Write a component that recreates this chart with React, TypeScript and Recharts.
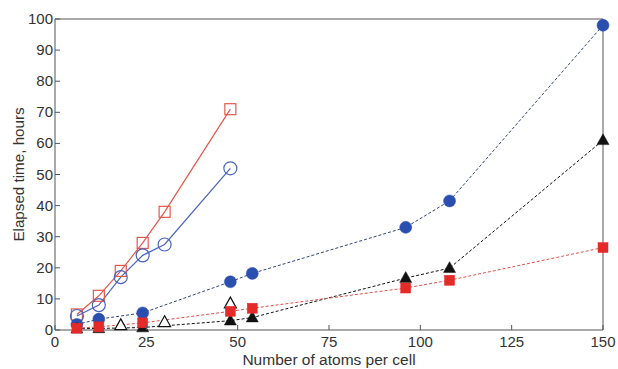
import React from 'react';
import { ComposedChart, Line, XAxis, YAxis, Label } from 'recharts';

const xTicks = [0, 25, 50, 75, 100, 125, 150];
const yTicks = [0, 10, 20, 30, 40, 50, 60, 70, 80, 90, 100];

const openSquareX = [6, 12, 18, 24, 30, 48];
const openSquareY = [5, 11, 19, 28, 38, 71];
const openCircleX = [6, 12, 18, 24, 30, 48];
const openCircleY = [4.5, 8, 17, 24, 27.5, 52];
const filledX = [6, 12, 24, 48, 54, 96, 108, 150];
const filledCircleY = [1.8, 3.5, 5.5, 15.5, 18.2, 33, 41.5, 98];
const filledTriangleY = [0.4, 0.5, 0.8, 3, 4, 16.7, 19.9, 61];
const filledSquareY = [0.6, 1.0, 2.3, 6, 7, 13.5, 16, 26.5];
const openTriangleX = [18, 30, 48];
const openTriangleY = [1.5, 2.5, 8.5];

const pts = (xs: number[], ys: number[]) => xs.map((x, i) => ({ x, y: ys[i] }));

const FONT = '"Liberation Sans", Arial, Helvetica, sans-serif';
const TEXT = '#333';
const AXIS = '#555';

type Shape = 'circle' | 'square' | 'triangle';

const makeDot = (shape: Shape, size: number, fill: string, stroke: string, sw: number) => (props: any) => {
  const { cx, cy, index } = props;
  if (cx == null || cy == null) return <g key={`d-${index}`} />;
  const k = `d-${index}`;
  if (shape === 'circle') {
    return <circle key={k} cx={cx} cy={cy} r={size / 2} fill={fill} stroke={stroke} strokeWidth={sw} />;
  }
  if (shape === 'square') {
    return <rect key={k} x={cx - size / 2} y={cy - size / 2} width={size} height={size} fill={fill} stroke={stroke} strokeWidth={sw} />;
  }
  const h = size * 0.9;
  const p = `${cx},${cy - h * 0.6} ${cx - size / 2},${cy + h * 0.4} ${cx + size / 2},${cy + h * 0.4}`;
  return <polygon key={k} points={p} fill={fill} stroke={stroke} strokeWidth={sw} />;
};

const BottomTick = (props: any) => {
  const { x, y, payload } = props;
  return (
    <g>
      <line x1={x} y1={y} x2={x} y2={y - 5} stroke={AXIS} />
      <text x={x} y={y + 17} textAnchor="middle" fontSize={15} fill={TEXT} fontFamily={FONT}>{payload.value}</text>
    </g>
  );
};
const TopTick = (props: any) => {
  const { x, y } = props;
  return <line x1={x} y1={y} x2={x} y2={y + 5} stroke={AXIS} />;
};
const LeftTick = (props: any) => {
  const { x, y, payload } = props;
  return (
    <g>
      <line x1={x} y1={y} x2={x + 5} y2={y} stroke={AXIS} />
      <text x={x - 2} y={y + 5} textAnchor="end" fontSize={15} fill={TEXT} fontFamily={FONT}>{payload.value}</text>
    </g>
  );
};
const RightTick = (props: any) => {
  const { x, y } = props;
  return <line x1={x} y1={y} x2={x - 5} y2={y} stroke={AXIS} />;
};

export default function App() {
  return (
    <div style={{ position: 'absolute', left: 0, top: 0, background: '#fff' }}>
      <ComposedChart width={618} height={369} margin={{ top: 18, right: 14, bottom: 0, left: 0 }}>
        <XAxis dataKey="x" type="number" domain={[0, 150]} ticks={xTicks} height={39}
          axisLine={{ stroke: AXIS }} tickLine={false} tickSize={0} tickMargin={0} tick={<BottomTick />} interval={0}>
          <Label content={(p: any) => {
            const vb = p.viewBox;
            return <text x={vb.x + vb.width / 2} y={365} textAnchor="middle" fontSize={15.5} fill={TEXT} fontFamily={FONT}>Number of atoms per cell</text>;
          }} />
        </XAxis>
        <XAxis xAxisId="top" orientation="top" dataKey="x" type="number" domain={[0, 150]} ticks={xTicks} height={1}
          axisLine={{ stroke: AXIS }} tickLine={false} tickSize={0} tickMargin={0} tick={<TopTick />} interval={0} />
        <YAxis type="number" domain={[0, 100]} ticks={yTicks} width={55}
          axisLine={{ stroke: AXIS }} tickLine={false} tickSize={0} tickMargin={0} tick={<LeftTick />} interval={0}>
          <Label content={(p: any) => {
            const vb = p.viewBox;
            const cy = vb.y + vb.height / 2;
            return <text x={18} y={cy} transform={`rotate(-90 18 ${cy})`} textAnchor="middle" dominantBaseline="central" fontSize={15.2} fill={TEXT} fontFamily={FONT}>Elapsed time, hours</text>;
          }} />
        </YAxis>
        <YAxis yAxisId="right" orientation="right" type="number" domain={[0, 100]} ticks={yTicks} width={1}
          axisLine={{ stroke: AXIS }} tickLine={false} tickSize={0} tickMargin={0} tick={<RightTick />} interval={0} />

        <Line data={pts(openSquareX, openSquareY)} dataKey="y" stroke="#e5584a" strokeWidth={1.2}
          dot={makeDot('square', 11, 'none', '#e5584a', 1.2)} isAnimationActive={false} />
        <Line data={pts(openCircleX, openCircleY)} dataKey="y" stroke="#4a64c0" strokeWidth={1.2}
          dot={makeDot('circle', 13, 'none', '#4a64c0', 1.2)} isAnimationActive={false} />
        <Line data={pts(filledX, filledCircleY)} dataKey="y" stroke="#34437e" strokeWidth={1} strokeDasharray="3 2"
          dot={makeDot('circle', 12, '#2a4fb0', '#2a4fb0', 0.5)} isAnimationActive={false} />
        <Line data={pts(openTriangleX, openTriangleY)} dataKey="y" stroke="none" strokeWidth={0}
          dot={makeDot('triangle', 12, '#fff', '#111', 1.2)} isAnimationActive={false} />
        <Line data={pts(filledX, filledTriangleY)} dataKey="y" stroke="#111" strokeWidth={1} strokeDasharray="3 2"
          dot={makeDot('triangle', 12, '#111', '#111', 0.5)} isAnimationActive={false} />
        <Line data={pts(filledX, filledSquareY)} dataKey="y" stroke="#e0524a" strokeWidth={1} strokeDasharray="3 2"
          dot={makeDot('square', 10, '#e52a2a', '#e52a2a', 0.5)} isAnimationActive={false} />
      </ComposedChart>
    </div>
  );
}
